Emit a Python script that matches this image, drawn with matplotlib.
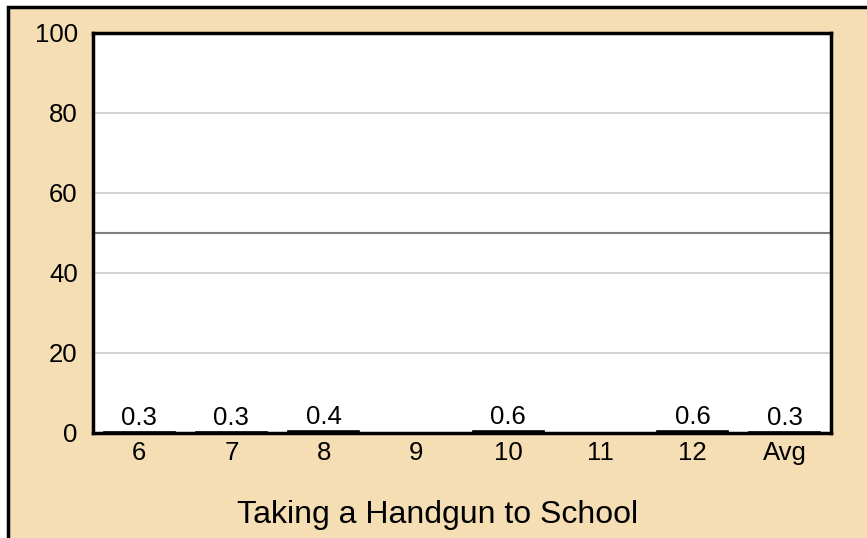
import matplotlib
matplotlib.use("Agg")
import matplotlib.pyplot as plt
from matplotlib.patches import Rectangle
import numpy as np

categories = ["6", "7", "8", "9", "10", "11", "12", "Avg"]
values = [0.3, 0.3, 0.4, np.nan, 0.6, np.nan, 0.6, 0.3]
labels = ["0.3", "0.3", "0.4", "", "0.6", "", "0.6", "0.3"]
yticks = [0, 20, 40, 60, 80, 100]
title = "Taking a Handgun to School"

plt.rcParams['font.family'] = ['Liberation Sans', 'DejaVu Sans']

W, H = 867, 538
fig = plt.figure(figsize=(W/100, H/100), dpi=100)
fig.patch.set_facecolor('white')
fig.patches.append(Rectangle((8/W, -0.1), 1.2, 1 - 7/H + 0.1, transform=fig.transFigure,
                             facecolor='#F5DEB3', edgecolor='black', linewidth=2.5, zorder=-10))

ax = fig.add_axes([93/W, 1 - 433/H, (831 - 93)/W, (433 - 33)/H])
ax.set_zorder(5)
ax.set_facecolor('white')
x = np.arange(len(categories))
ax.set_xlim(-0.5, len(categories) - 0.5)
ax.set_ylim(0, 100)

for g in [20, 40, 60, 80]:
    ax.axhline(g, color='#d3d3d3', linewidth=1.5, zorder=1)
ax.axhline(50, color='#808080', linewidth=1.5, zorder=1)

ax.bar(x, values, width=0.77, color='black', edgecolor='black', linewidth=1.2, zorder=2)
for xi, v, lab in zip(x, values, labels):
    if lab:
        ax.text(xi, v + 0.5, lab, ha='center', va='bottom', fontsize=18.5, zorder=3)

ax.set_xticks(x)
ax.set_xticklabels(categories, fontsize=18.5)
ax.set_yticks(yticks)
ax.set_yticklabels([str(t) for t in yticks], fontsize=18.5)
ax.tick_params(axis='both', length=0)
ax.tick_params(axis='y', pad=11)
ax.tick_params(axis='x', pad=6)
for s in ax.spines.values():
    s.set_linewidth(2.5)
    s.set_color('black')

fig.text(438/W, 1 - 515/H, title, ha='center', va='center', fontsize=23)

fig.savefig("out.png", dpi=100)
